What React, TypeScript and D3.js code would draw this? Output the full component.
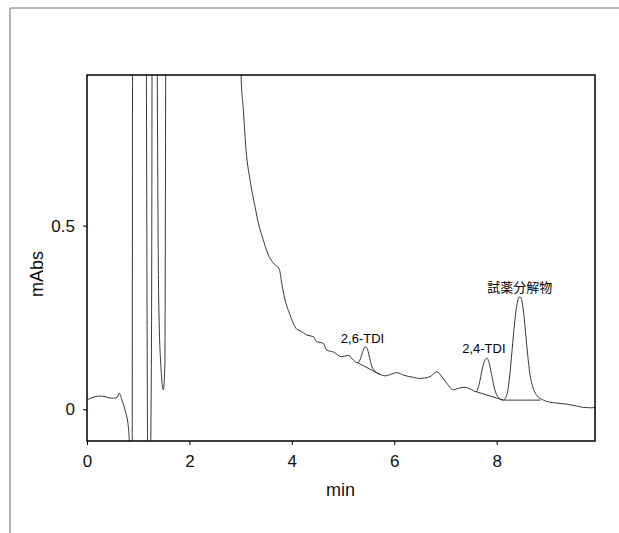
import React, { useEffect, useRef } from "react";
import * as d3 from "d3";

// retention time (min) and absorbance (mAbs)
const times = [
  0.0, 0.025, 0.254, 0.514, 0.592, 0.631, 0.678, 0.742, 0.807, 0.826, 0.85,
  0.88, 0.895, 1.14, 1.19, 1.23, 1.26, 1.28, 1.34, 1.4, 1.45, 1.49, 1.52, 1.55,
  2.98, 3.008, 3.053, 3.105, 3.184, 3.281, 3.346, 3.443, 3.541, 3.639, 3.756,
  3.803, 3.867, 3.965, 4.096, 4.16, 4.291, 4.42, 4.486, 4.615, 4.682, 4.811,
  4.975, 5.104, 5.201, 5.279, 5.33, 5.38, 5.43, 5.47, 5.51, 5.56, 5.625, 5.723,
  5.82, 5.951, 6.049, 6.178, 6.373, 6.504, 6.699, 6.83, 6.928, 7.025, 7.154,
  7.252, 7.383, 7.514, 7.598, 7.66, 7.72, 7.77, 7.81, 7.85, 7.9, 7.96, 8.033,
  8.131, 8.2, 8.25, 8.3, 8.35, 8.4, 8.44, 8.47, 8.5, 8.54, 8.59, 8.64, 8.7,
  8.783, 8.912, 9.107, 9.369, 9.564, 9.693, 9.857, 9.92,
];
const absorbance = [
  0.025, 0.027, 0.036, 0.03, 0.033, 0.044, 0.027, -0.002, -0.047, -0.088, -0.2,
  -0.2, 1.5, 1.5, -0.2, -0.2, 0.21, 1.5, 1.5, 0.3, 0.1, 0.053, 0.12, 1.5,
  1.5, 0.91, 0.815, 0.707, 0.624, 0.552, 0.507, 0.461, 0.42, 0.398, 0.381,
  0.343, 0.298, 0.257, 0.218, 0.214, 0.202, 0.198, 0.184, 0.18, 0.161, 0.156,
  0.143, 0.147, 0.134, 0.127, 0.134, 0.155, 0.17, 0.166, 0.145, 0.118, 0.103,
  0.095, 0.091, 0.096, 0.1, 0.093, 0.087, 0.084, 0.089, 0.102, 0.089, 0.071,
  0.053, 0.057, 0.06, 0.053, 0.048, 0.07, 0.11, 0.134, 0.139, 0.128, 0.095,
  0.055, 0.032, 0.025, 0.04, 0.085, 0.16, 0.235, 0.288, 0.306, 0.305, 0.29,
  0.245, 0.17, 0.105, 0.063, 0.038, 0.025, 0.018, 0.014, 0.009, 0.005, 0.004,
  0.005,
];

// integration baselines drawn under the peaks
const baseStart = [
  [5.279, 0.127],
  [7.598, 0.048],
  [8.15, 0.025],
];
const baseEnd = [
  [5.723, 0.095],
  [8.131, 0.025],
  [8.85, 0.025],
];

const peakNames = ["2,6-TDI", "2,4-TDI", "試薬分解物"];
const peakTimes = [5.38, 7.75, 8.45];
const peakLabelValues = [0.18, 0.153, 0.319];

const xTicks = [0, 2, 4, 6, 8];
const yTicks = [0, 0.5];

const App = () => {
  const ref = useRef<SVGSVGElement>(null);

  useEffect(() => {
    const width = 619,
      height = 533;
    const margin = { top: 75, right: 24, bottom: 92, left: 87 };
    const innerW = width - margin.left - margin.right;
    const innerH = height - margin.top - margin.bottom;

    const svg = d3.select(ref.current);
    svg.selectAll("*").remove();

    // outer frame (top and left edges only)
    svg
      .append("path")
      .attr("d", `M10,${height} L10,8 L${width},8`)
      .attr("fill", "none")
      .attr("stroke", "#666")
      .attr("stroke-width", 1);

    const g = svg
      .append("g")
      .attr("transform", `translate(${margin.left},${margin.top})`);

    const x = d3.scaleLinear().domain([0, 9.92]).range([0, innerW]);
    const y = d3.scaleLinear().domain([-0.0863, 0.91]).range([innerH, 0]);

    g.append("clipPath")
      .attr("id", "plot-clip")
      .append("rect")
      .attr("width", innerW)
      .attr("height", innerH);

    const line = d3
      .line<number>()
      .x((d, i) => x(times[i]))
      .y((d) => y(d))
      .curve(d3.curveMonotoneX);

    g.append("path")
      .datum(absorbance)
      .attr("clip-path", "url(#plot-clip)")
      .attr("fill", "none")
      .attr("stroke", "#222")
      .attr("stroke-width", 0.9)
      .attr("d", line);

    g.selectAll(".base")
      .data(baseStart)
      .enter()
      .append("line")
      .attr("class", "base")
      .attr("x1", (d) => x(d[0]))
      .attr("y1", (d) => y(d[1]))
      .attr("x2", (d, i) => x(baseEnd[i][0]))
      .attr("y2", (d, i) => y(baseEnd[i][1]))
      .attr("stroke", "#222")
      .attr("stroke-width", 0.9);

    g.selectAll(".peak-label")
      .data(peakNames)
      .enter()
      .append("text")
      .attr("class", "peak-label")
      .attr("x", (d, i) => x(peakTimes[i]))
      .attr("y", (d, i) => y(peakLabelValues[i]))
      .attr("text-anchor", "middle")
      .style("font-family", "'Liberation Sans', Arial, 'Noto Sans CJK JP', sans-serif")
      .style("font-size", "13px")
      .text((d) => d);

    // plot box
    g.append("rect")
      .attr("width", innerW)
      .attr("height", innerH)
      .attr("fill", "none")
      .attr("stroke", "#000")
      .attr("stroke-width", 1.5);

    const font = "'Liberation Sans', Arial, sans-serif";

    const xAxis = g
      .append("g")
      .attr("transform", `translate(0,${innerH})`)
      .call(
        d3
          .axisBottom(x)
          .tickValues(xTicks)
          .tickSize(4)
          .tickPadding(10)
          .tickFormat(d3.format("d"))
      );
    xAxis.select(".domain").remove();

    const yAxis = g.append("g").call(
      d3
        .axisLeft(y)
        .tickValues(yTicks)
        .tickSize(4)
        .tickPadding(8)
        .tickFormat((d) => `${d}`)
    );
    yAxis.select(".domain").remove();

    g.selectAll(".tick text")
      .style("font-family", font)
      .style("font-size", "17px")
      .attr("fill", "#111");
    g.selectAll(".tick line").attr("stroke", "#000");

    g.append("text")
      .attr("x", x(4.95))
      .attr("y", innerH + 55)
      .attr("text-anchor", "middle")
      .style("font-family", font)
      .style("font-size", "18px")
      .attr("fill", "#111")
      .text("min");

    g.append("text")
      .attr("transform", "rotate(-90)")
      .attr("x", -(274 - margin.top))
      .attr("y", -margin.left + 43)
      .attr("text-anchor", "middle")
      .style("font-family", font)
      .style("font-size", "18px")
      .attr("fill", "#111")
      .text("mAbs");
  }, []);

  return (
    <div style={{ position: "absolute", left: 0, top: 0 }}>
      <svg ref={ref} width={619} height={533} style={{ display: "block", background: "#fff" }}></svg>
    </div>
  );
};

export default App;
